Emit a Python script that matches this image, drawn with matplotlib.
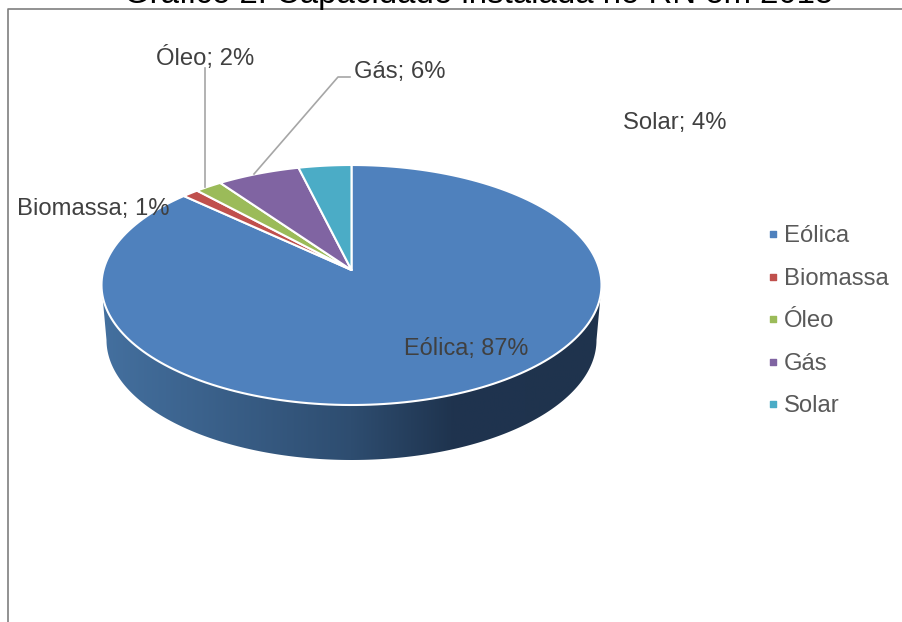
import numpy as np
import matplotlib
matplotlib.use("Agg")
import matplotlib.pyplot as plt
from matplotlib.patches import Polygon
from matplotlib.colors import LinearSegmentedColormap

plt.rcParams['font.family'] = ['Liberation Sans', 'DejaVu Sans']

# Dados
categorias = ["Eólica", "Biomassa", "Óleo", "Gás", "Solar"]
rotulos = [87, 1, 2, 6, 4]
fatias = [88.3, 1.1, 1.8, 5.4, 3.4]  # tamanho desenhado
cores = ["#4F81BD", "#C0504D", "#9BBB59", "#8064A2", "#4BACC6"]
titulo = "Gráfico 2: Capacidade instalada no RN em 2015"

# Geometria em pixels
cx, cy = 351.5, 285
a, b = 250, 120
apice_y = 270
prof = 55


def borda(t):
    # t em graus, sentido horario a partir do topo
    t = np.radians(t)
    return cx + a*np.sin(t), cy - b*np.cos(t)


fig = plt.figure(figsize=(9.03, 6.22), dpi=100)
ax = fig.add_axes([0, 0, 1, 1])
ax.set_xlim(0, 903)
ax.set_ylim(622, 0)
ax.axis("off")

# Moldura (so esquerda e topo aparecem)
ax.plot([8.5, 8.5, 903], [622, 9, 9], color="#7F7F7F", lw=1.2, zorder=1)

# Lateral com gradiente
tt = np.radians(np.linspace(90, 270, 200))
xs = cx + a*np.sin(tt)
ys = cy - b*np.cos(tt)
xi = cx + (a-5)*np.sin(tt[::-1])
yi = cy + prof - (b-0)*np.cos(tt[::-1])
lateral = Polygon(np.column_stack([np.r_[xs, xi], np.r_[ys, yi]]), closed=True,
                  transform=ax.transData, fc="none", ec="none")
ax.add_patch(lateral)
cmap = LinearSegmentedColormap.from_list("lado", [(0, "#44709F"), (0.5, "#2E4D70"),
                                                  (0.7, "#1F344F"), (1, "#1F334D")])
im = ax.imshow(np.linspace(0, 1, 256).reshape(1, -1), cmap=cmap, aspect="auto",
               extent=[cx-a, cx+a, 470, 280], zorder=2)
im.set_clip_path(lateral)
ax.set_xlim(0, 903)
ax.set_ylim(622, 0)

# Fatias: comecam no topo e seguem no sentido horario
ini = 0.0
for v, c in zip(fatias, cores):
    fim = ini + v*3.6
    t = np.linspace(ini, fim, 200)
    px, py = borda(t)
    pts = np.column_stack([np.r_[cx, px], np.r_[apice_y, py]])
    ax.add_patch(Polygon(pts, closed=True, fc=c, ec="white", lw=1.5, zorder=3,
                         joinstyle="round"))
    ini = fim

# Linhas de chamada
ax.plot([205, 205, 205], [68, 100, 187], color="#A6A6A6", lw=1.2, zorder=4)
ax.plot([254, 338, 350], [174, 77, 77], color="#A6A6A6", lw=1.2, zorder=4)

# Rotulos
pos = [(404, 348), (17, 209), (156, 58), (354, 72), (623, 123)]
tam = [16.9, 17.2, 17.2, 17.2, 17.2]
for cat, r, (x, y), fs in zip(categorias, rotulos, pos, tam):
    ax.text(x, y, f"{cat}; {r}%", ha="left", va="center", fontsize=fs,
            color="#404040", zorder=5)

# Legenda
leg_y = [234, 277, 319, 362, 404]
for cat, c, y in zip(categorias, cores, leg_y):
    ax.scatter([773], [y], marker="s", s=24, color=c, zorder=5)
    ax.text(784, y+2, cat, fontsize=17.2, color="#595959", va="center", ha="left", zorder=5)

# Titulo (cortado na borda superior)
ax.text(479, 3, titulo, fontsize=23.8, color="black", ha="center", va="baseline", zorder=5)

fig.savefig("out.png", dpi=100)
